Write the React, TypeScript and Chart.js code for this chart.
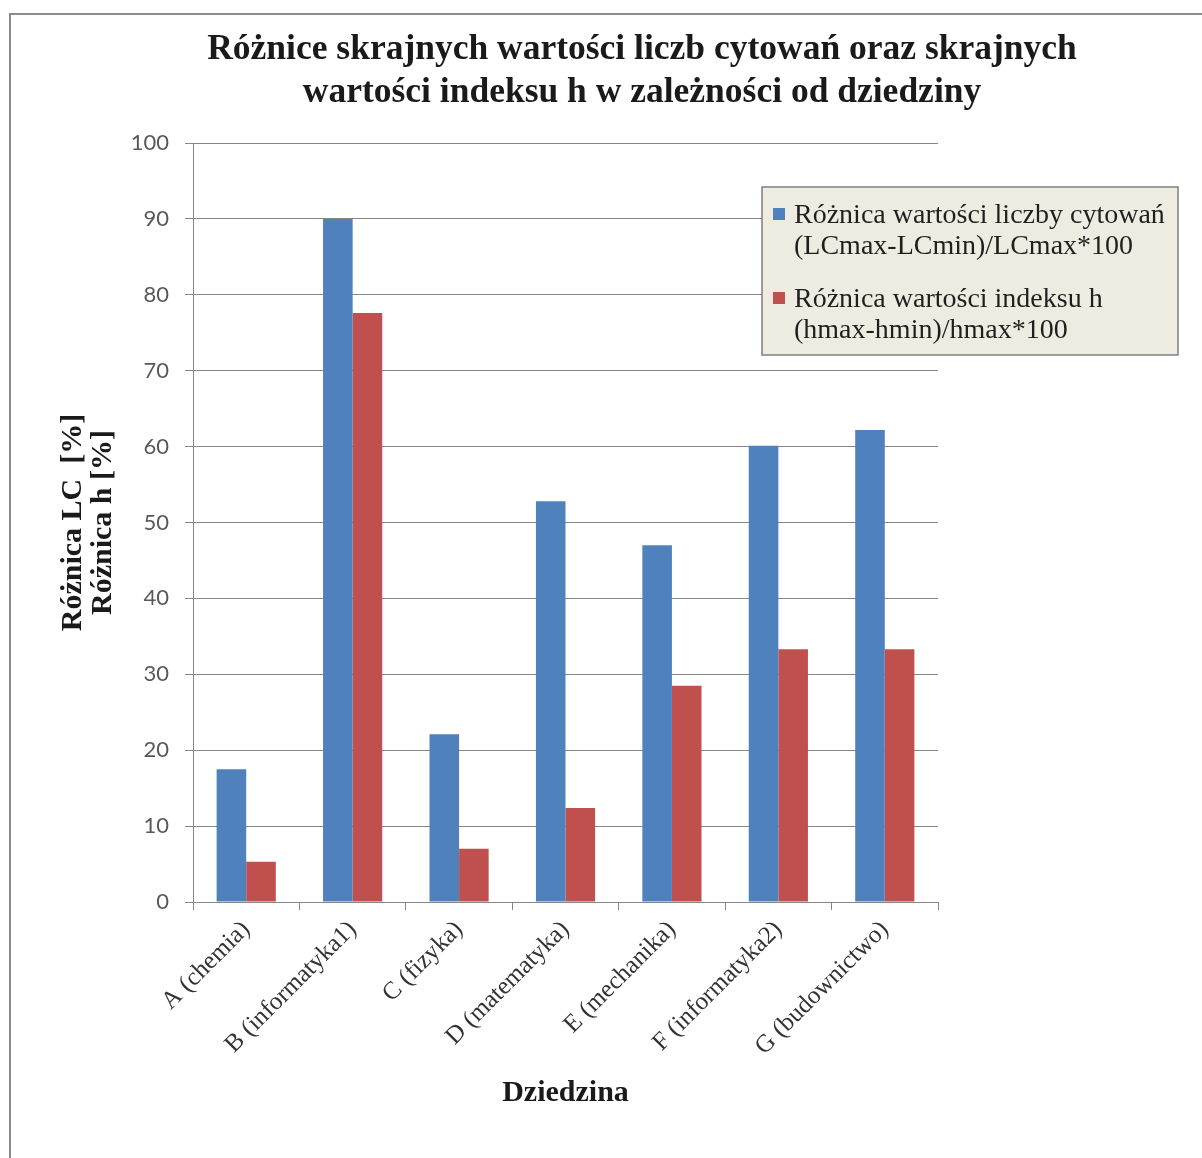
import React, { useEffect, useRef } from "react";
import { Chart, registerables } from "chart.js";

Chart.register(...registerables);

const categories = [
  "A (chemia)",
  "B (informatyka1)",
  "C (fizyka)",
  "D (matematyka)",
  "E (mechanika)",
  "F (informatyka2)",
  "G (budownictwo)",
];
const lcDiff = [17.5, 90.0, 22.1, 52.8, 47.0, 60.1, 62.2];
const hDiff = [5.3, 77.6, 7.0, 12.4, 28.5, 33.3, 33.3];
const seriesNames = [
  "Różnica wartości liczby cytowań\n(LCmax-LCmin)/LCmax*100",
  "Różnica wartości indeksu h\n(hmax-hmin)/hmax*100",
];
const seriesColors = ["#4f81bd", "#c0504d"];
const titleLines = [
  "Różnice skrajnych wartości liczb cytowań oraz skrajnych",
  "wartości indeksu h w zależności od dziedziny",
];
const yTitleLines = ["Różnica LC  [%]", "Różnica h [%]"];
const xTitle = "Dziedzina";
const yMin = 0;
const yMax = 100;
const yStep = 10;

const boxLegend = {
  id: "boxLegend",
  afterDraw(chart: any) {
    const { ctx, chartArea } = chart;
    const x = chartArea.right - 176;
    const y = chartArea.top + 44;
    const w = 416;
    const h = 168;
    ctx.save();
    ctx.fillStyle = "#eeece1";
    ctx.fillRect(x, y, w, h);
    ctx.strokeStyle = "#7f7f7f";
    ctx.lineWidth = 1.5;
    ctx.strokeRect(x, y, w, h);
    ctx.font = "normal 400 28px 'Liberation Serif', 'Times New Roman', serif";
    ctx.textBaseline = "alphabetic";
    ctx.textAlign = "left";
    chart.data.datasets.forEach((ds: any, i: number) => {
      const lines = String(ds.label).split("\n");
      const base = y + 36 + i * 84;
      ctx.fillStyle = ds.backgroundColor;
      ctx.fillRect(x + 11, base - 15, 12, 12);
      ctx.fillStyle = "#1f1f1f";
      lines.forEach((ln: string, j: number) => {
        ctx.fillText(ln, x + 32, base + j * 31);
      });
    });
    ctx.restore();
  },
};

function BarChart() {
  const ref = useRef<HTMLCanvasElement | null>(null);
  useEffect(() => {
    if (!ref.current) return;
    const chart = new Chart(ref.current, {
      type: "bar",
      data: {
        labels: categories,
        datasets: [
          {
            label: seriesNames[0],
            data: lcDiff,
            backgroundColor: seriesColors[0],
            categoryPercentage: 0.556,
            barPercentage: 1,
            borderWidth: 0,
          },
          {
            label: seriesNames[1],
            data: hDiff,
            backgroundColor: seriesColors[1],
            categoryPercentage: 0.556,
            barPercentage: 1,
            borderWidth: 0,
          },
        ],
      },
      options: {
        responsive: false,
        animation: false,
        devicePixelRatio: 1,
        layout: { padding: { left: 40, top: 0, right: 0, bottom: 41 } },
        plugins: {
          legend: { display: false },
          tooltip: { enabled: false },
          title: {
            display: true,
            text: titleLines,
            color: "#1a1a1a",
            font: { family: "Liberation Serif", size: 35.5, weight: "bold", lineHeight: 43 / 35.5 },
            padding: { top: 13.5, bottom: 28.5 },
          },
        },
        scales: {
          x: {
            ticks: {
              color: "#333333",
              font: { family: "Liberation Serif", size: 25 },
              minRotation: 45,
              maxRotation: 45,
              padding: 5,
              autoSkip: false,
            },
            grid: {
              display: true,
              drawOnChartArea: false,
              drawTicks: true,
              tickLength: 8,
              color: "#868686",
              offset: true,
            },
            border: { color: "#868686", width: 1 },
            title: {
              display: true,
              text: xTitle,
              color: "#1a1a1a",
              font: { family: "Liberation Serif", size: 30, weight: "bold", lineHeight: 1 },
              padding: { top: 0, bottom: 9 },
            },
            afterFit: (s: any) => {
              s.height = 215;
            },
          },
          y: {
            min: yMin,
            max: yMax,
            ticks: {
              stepSize: yStep,
              color: "#595959",
              font: { family: "Lato", size: 22 },
              padding: 16,
            },
            grid: { color: "#868686", lineWidth: 1, drawTicks: true, tickLength: 8 },
            border: { color: "#868686", width: 1 },
            title: {
              display: true,
              text: yTitleLines,
              color: "#1a1a1a",
              font: { family: "Liberation Serif", size: 30, weight: "bold", lineHeight: 1 },
              padding: { top: 7, bottom: 0 },
            },
            afterFit: (s: any) => {
              s.width = 142;
            },
          },
          yRightSpace: {
            type: "linear",
            position: "right",
            display: true,
            min: yMin,
            max: yMax,
            ticks: { display: false },
            grid: { display: false, drawTicks: false, drawOnChartArea: false },
            border: { display: false },
            title: { display: false },
            afterFit: (s: any) => {
              s.width = 295;
            },
          },
        },
      },
      plugins: [boxLegend],
    } as any);
    return () => chart.destroy();
  }, []);
  return <canvas ref={ref} width={1222} height={1143} style={{ display: "block" }} />;
}

export default function App() {
  return (
    <div
      style={{
        position: "fixed",
        left: 0,
        top: 0,
        width: 1202,
        height: 1158,
        overflow: "hidden",
        background: "#ffffff",
      }}
    >
      <div
        style={{
          position: "absolute",
          left: 9,
          top: 13,
          width: 1300,
          height: 1200,
          borderLeft: "2px solid #8a8a8a",
          borderTop: "2px solid #8a8a8a",
        }}
      >
        <div style={{ position: "absolute", left: 0, top: 0, width: 1222, height: 1143 }}>
          <BarChart />
        </div>
      </div>
    </div>
  );
}
